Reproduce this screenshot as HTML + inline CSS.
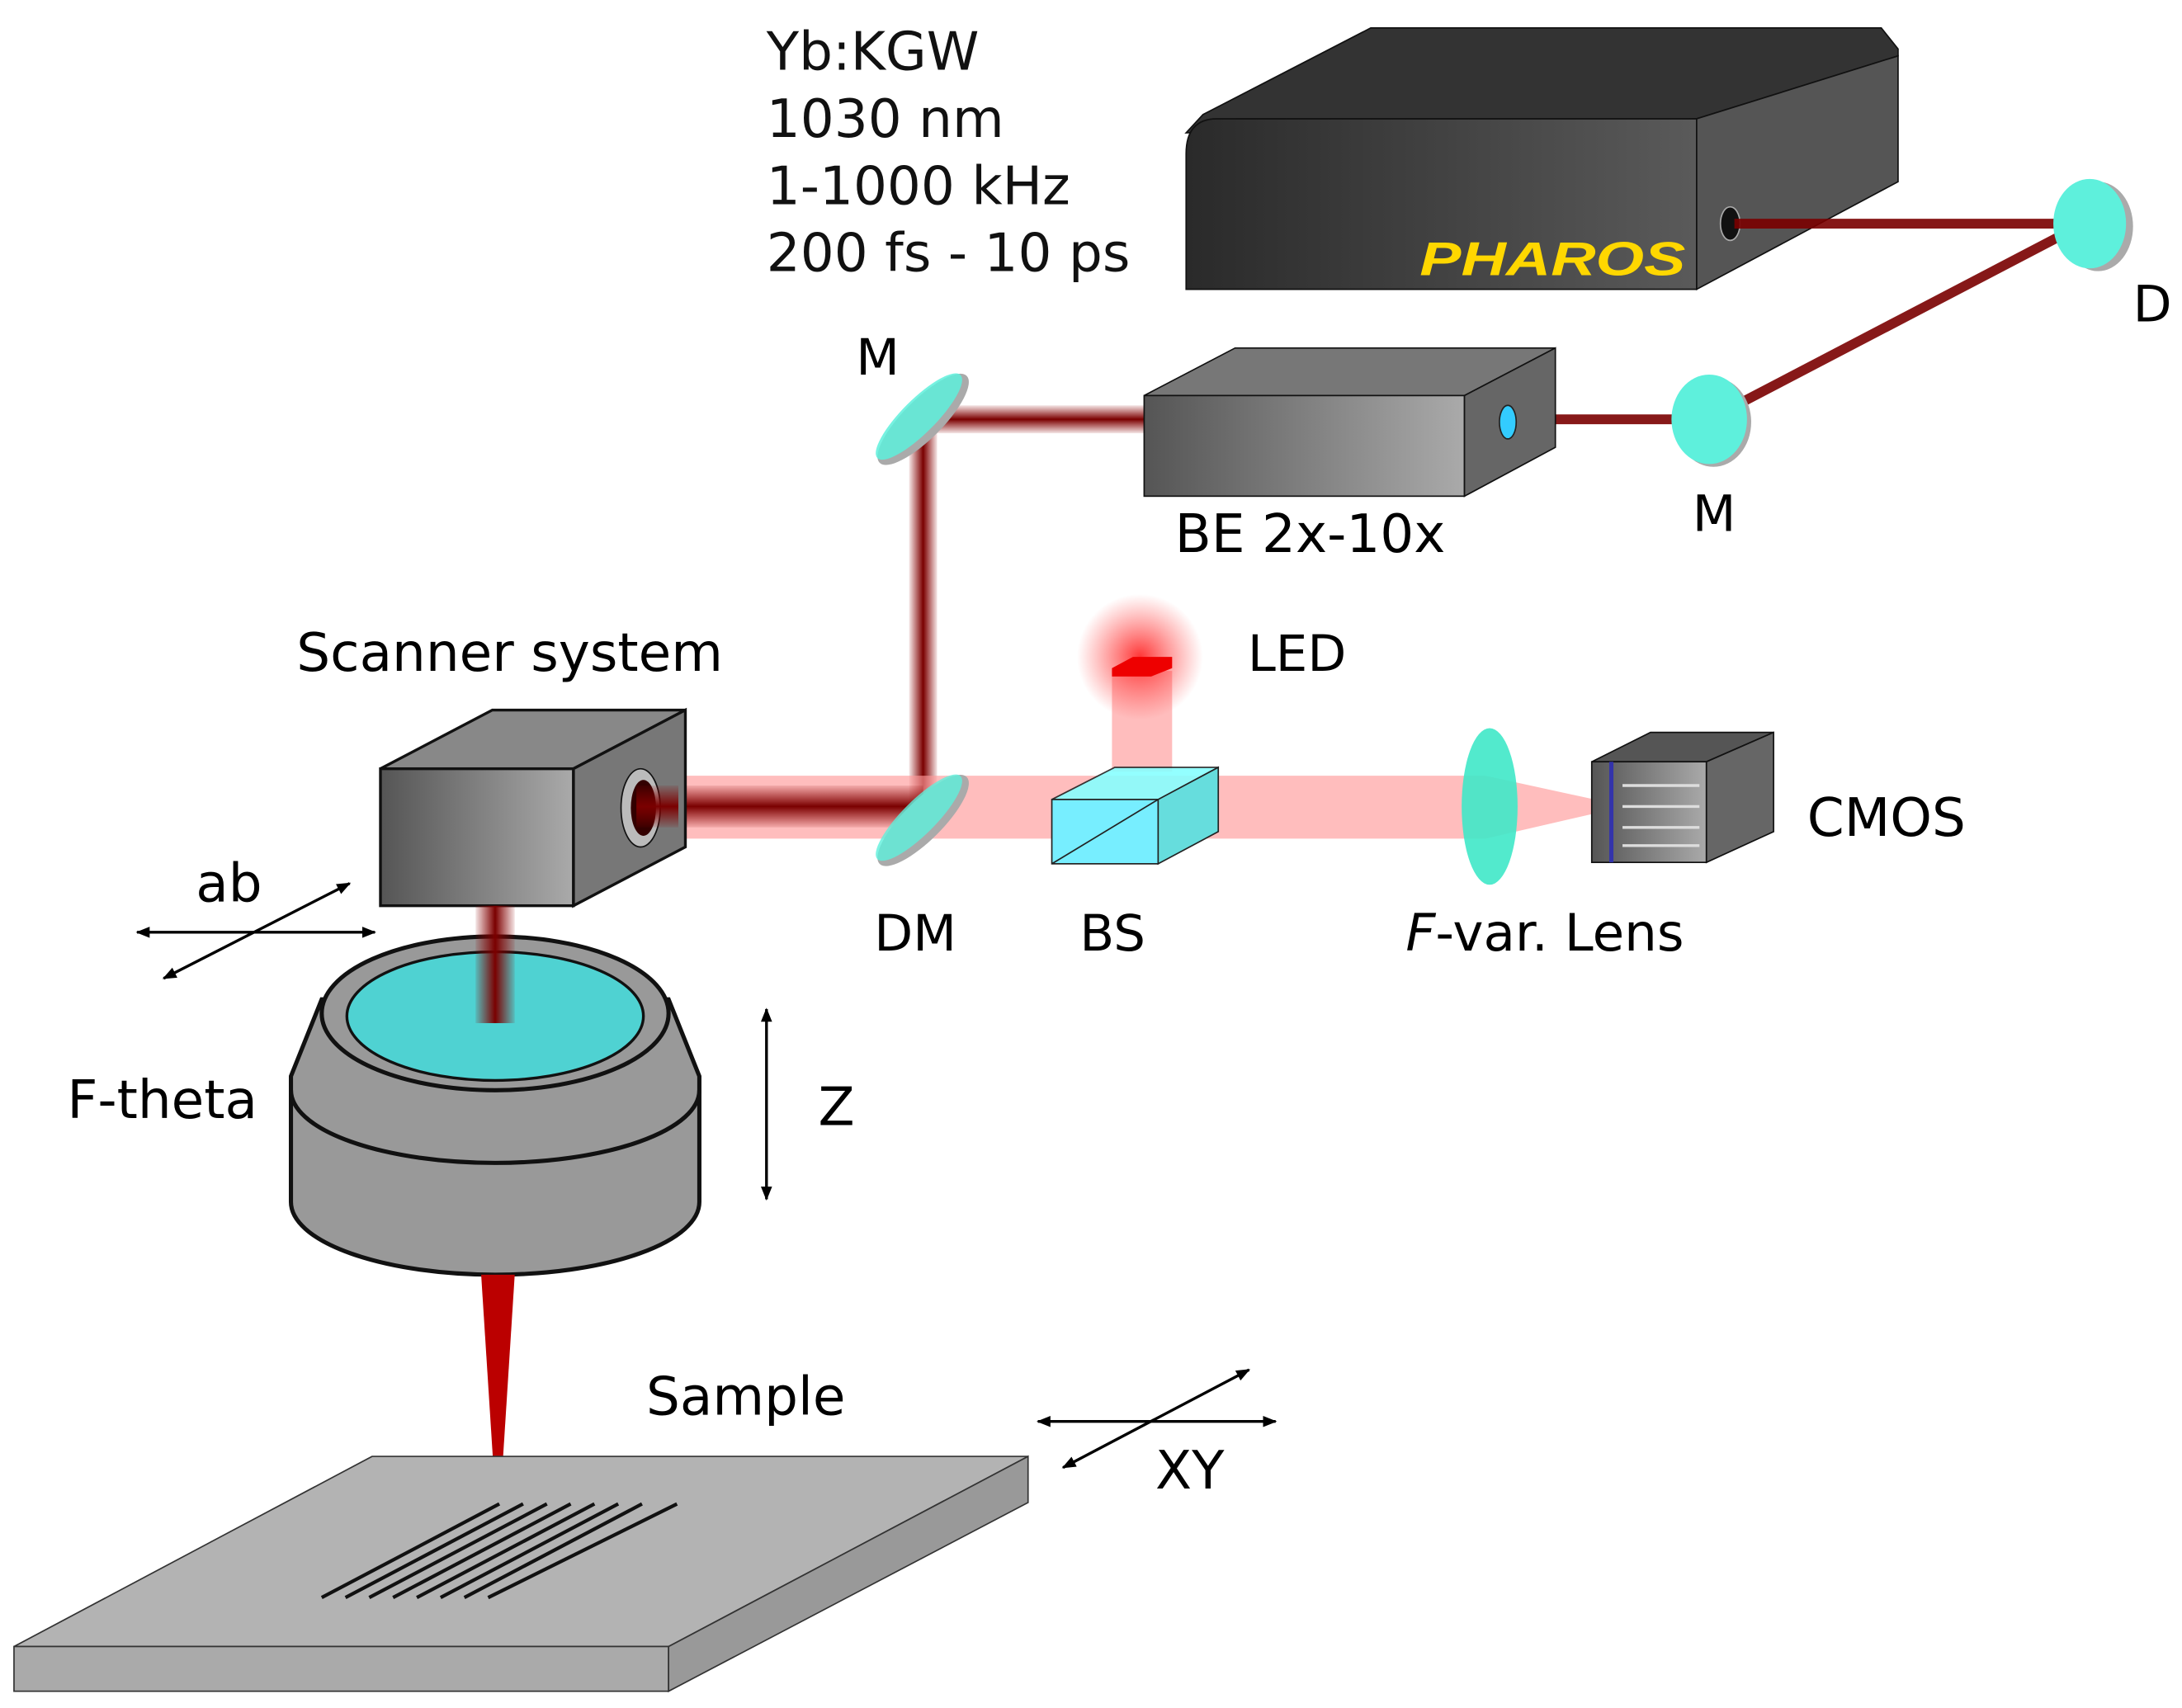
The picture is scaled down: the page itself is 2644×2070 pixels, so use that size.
<!DOCTYPE html>
<html><head><meta charset="utf-8"><style>html,body{margin:0;padding:0;background:#fff}svg{display:block}</style></head>
<body>
<svg width="2644" height="2070" viewBox="0 0 1560 1222" preserveAspectRatio="none" xmlns="http://www.w3.org/2000/svg" font-family="'DejaVu Sans','Liberation Sans',sans-serif">
<defs>
<linearGradient id="dk" x1="0" x2="1"><stop offset="0" stop-color="#2a2a2a"/><stop offset="1" stop-color="#5a5a5a"/></linearGradient>
<linearGradient id="gr" x1="0" x2="1"><stop offset="0" stop-color="#555"/><stop offset="1" stop-color="#aaa"/></linearGradient>
<radialGradient id="glow"><stop offset="0" stop-color="#ff2020" stop-opacity="0.9"/><stop offset="1" stop-color="#ff4040" stop-opacity="0"/></radialGradient>
<linearGradient id="vb" x1="0" x2="1"><stop offset="0" stop-color="#8b0000" stop-opacity="0.1"/><stop offset="0.5" stop-color="#7a0000"/><stop offset="1" stop-color="#8b0000" stop-opacity="0.1"/></linearGradient>
<linearGradient id="hb" x1="0" y1="0" x2="0" y2="1"><stop offset="0" stop-color="#8b0000" stop-opacity="0.1"/><stop offset="0.5" stop-color="#7a0000"/><stop offset="1" stop-color="#8b0000" stop-opacity="0.1"/></linearGradient>
<marker id="ar" markerWidth="10" markerHeight="10" refX="9" refY="5" orient="auto-start-reverse" markerUnits="userSpaceOnUse"><path d="M0,1 L10,5 L0,9 z" fill="#000"/></marker>
</defs>
<g font-size="38" fill="#111">
<text x="548" y="50">Yb:KGW</text><text x="548" y="98">1030 nm</text><text x="548" y="146">1-1000 kHz</text><text x="548" y="194">200 fs - 10 ps</text>
</g>
<!-- PHAROS -->
<polygon points="860,82 980,20 1345,20 1357,35 1357,40 1213,85 848,95" fill="#333" stroke="#111"/>
<path d="M848,207 L848,110 Q848,85 870,85 L1213,85 L1213,207 Z" fill="url(#dk)" stroke="#111"/>
<polygon points="1213,85 1357,40 1357,130 1213,207" fill="#555" stroke="#111"/>
<ellipse cx="1237" cy="160" rx="7" ry="12" fill="#111" stroke="#aaa"/>
<text x="1015" y="197" font-size="34" font-weight="900" font-style="italic" fill="#ffd700" font-family="'Liberation Sans',sans-serif" textLength="190" lengthAdjust="spacingAndGlyphs">PHAROS</text>
<!-- beams -->
<g stroke="#7a0000" stroke-width="7" fill="none" opacity="0.9">
<line x1="1240" y1="160" x2="1490" y2="160"/>
<line x1="1490" y1="160" x2="1222" y2="300"/>
<line x1="1080" y1="300" x2="1222" y2="300"/>
</g>
<rect x="660" y="290" width="158" height="20" fill="url(#hb)"/>
<rect x="650" y="300" width="20" height="280" fill="url(#vb)"/>
<!-- D mirror -->
<ellipse cx="1500" cy="162" rx="25" ry="32" fill="#aaa"/><ellipse cx="1494" cy="160" rx="26" ry="32" fill="#5ef0dc"/>
<text x="1525" y="230" font-size="36">D</text>
<ellipse cx="1225" cy="302" rx="27" ry="32" fill="#aaa"/><ellipse cx="1222" cy="300" rx="27" ry="32" fill="#5ef0dc"/>
<text x="1210" y="380" font-size="36">M</text>
<!-- BE -->
<polygon points="818,283 883,249 1112,249 1047,283" fill="#777" stroke="#111"/>
<rect x="818" y="283" width="229" height="72" fill="url(#gr)" stroke="#111"/>
<polygon points="1047,283 1112,249 1112,320 1047,355" fill="#666" stroke="#111"/>
<ellipse cx="1078" cy="302" rx="6" ry="12" fill="#3cf" stroke="#222"/>
<text x="840" y="395" font-size="38">BE 2x-10x</text>
<!-- M mirror -->
<ellipse cx="660" cy="300" rx="14" ry="44" transform="rotate(45 660 300)" fill="#aaa"/>
<ellipse cx="657" cy="298" rx="12" ry="42" transform="rotate(45 657 298)" fill="#5ef0dc" opacity="0.85"/>
<text x="612" y="268" font-size="36">M</text>
<!-- pink beam -->
<polygon points="455,555 1062,555 1140,572 1140,582 1062,600 455,600" fill="#ff9a9a" opacity="0.65"/>
<rect x="795" y="480" width="43" height="72" fill="#ff9a9a" opacity="0.65"/>
<circle cx="815" cy="470" r="45" fill="url(#glow)"/>
<polygon points="795,478 810,470 838,470 838,478 823,484 795,484" fill="#e00"/>
<text x="892" y="480" font-size="36">LED</text>
<rect x="455" y="562" width="205" height="30" fill="url(#hb)"/>
<!-- DM -->
<ellipse cx="660" cy="587" rx="14" ry="44" transform="rotate(45 660 587)" fill="#aaa"/>
<ellipse cx="657" cy="585" rx="12" ry="42" transform="rotate(45 657 585)" fill="#5ef0dc" opacity="0.8"/>
<text x="625" y="680" font-size="36">DM</text>
<!-- BS -->
<polygon points="752,572 797,549 871,549 828,572" fill="#8ff" stroke="#222" opacity="0.9"/>
<rect x="752" y="572" width="76" height="46" fill="#7ef" stroke="#222"/>
<polygon points="828,572 871,549 871,595 828,618" fill="#6dd" stroke="#222"/>
<line x1="752" y1="618" x2="828" y2="572" stroke="#222"/>
<text x="772" y="680" font-size="36">BS</text>
<!-- lens -->
<ellipse cx="1065" cy="577" rx="20" ry="56" fill="#3fe8c8" opacity="0.9"/>
<text x="1005" y="680" font-size="37"><tspan font-style="italic">F</tspan>-var. Lens</text>
<!-- CMOS -->
<polygon points="1138,545 1180,524 1268,524 1220,545" fill="#555" stroke="#111"/>
<rect x="1138" y="545" width="82" height="72" fill="url(#gr)" stroke="#111"/>
<line x1="1152" y1="545" x2="1152" y2="617" stroke="#33a" stroke-width="3"/>
<polygon points="1220,545 1268,524 1268,595 1220,617" fill="#666" stroke="#111"/>
<g stroke="#ddd" stroke-width="2"><line x1="1160" y1="562" x2="1215" y2="562"/><line x1="1160" y1="577" x2="1215" y2="577"/><line x1="1160" y1="592" x2="1215" y2="592"/><line x1="1160" y1="605" x2="1215" y2="605"/></g>
<text x="1292" y="598" font-size="38">CMOS</text>
<!-- scanner -->
<polygon points="272,550 352,508 490,508 410,550" fill="#888" stroke="#111" stroke-width="2"/>
<rect x="272" y="550" width="138" height="98" fill="url(#gr)" stroke="#111" stroke-width="2"/>
<polygon points="410,550 490,508 490,606 410,648" fill="#777" stroke="#111" stroke-width="2"/>
<ellipse cx="458" cy="578" rx="14" ry="28" fill="#bbb" stroke="#111"/><ellipse cx="460" cy="578" rx="9" ry="20" fill="#300"/>
<rect x="455" y="562" width="30" height="30" fill="url(#hb)"/>
<text x="212" y="480" font-size="38">Scanner system</text>
<!-- ab -->
<g stroke="#000" stroke-width="2" marker-start="url(#ar)" marker-end="url(#ar)"><line x1="98" y1="667" x2="268" y2="667"/><line x1="117" y1="700" x2="250" y2="632"/></g>
<text x="140" y="645" font-size="38">ab</text>
<!-- F-theta -->
<path d="M208,770 L230,715 L478,715 L500,770 L500,860 A146,52 0 0 1 208,860 Z" fill="#999" stroke="#111" stroke-width="3"/>
<path d="M208,780 A146,52 0 0 0 500,780" fill="none" stroke="#111" stroke-width="3"/>
<ellipse cx="354" cy="725" rx="124" ry="55" fill="#999" stroke="#111" stroke-width="3"/>
<ellipse cx="354" cy="727" rx="106" ry="46" fill="#4fd2d2" stroke="#111" stroke-width="2"/>
<rect x="340" y="648" width="28" height="84" fill="url(#vb)"/>
<text x="48" y="800" font-size="38">F-theta</text>
<line x1="548" y1="722" x2="548" y2="858" stroke="#000" stroke-width="2" marker-start="url(#ar)" marker-end="url(#ar)"/>
<text x="585" y="805" font-size="38">Z</text>
<polygon points="344,912 368,912 356,1100" fill="#b00"/>
<!-- sample -->
<polygon points="10,1178 266,1042 735,1042 478,1178" fill="#b3b3b3" stroke="#333"/>
<rect x="10" y="1178" width="468" height="32" fill="#aaa" stroke="#333"/>
<polygon points="478,1178 735,1042 735,1075 478,1210" fill="#999" stroke="#333"/>
<g stroke="#111" stroke-width="2.5">
<line x1="230" y1="1143" x2="357" y2="1076"/><line x1="247" y1="1143" x2="374" y2="1076"/><line x1="264" y1="1143" x2="391" y2="1076"/><line x1="281" y1="1143" x2="408" y2="1076"/><line x1="298" y1="1143" x2="425" y2="1076"/><line x1="315" y1="1143" x2="442" y2="1076"/><line x1="332" y1="1143" x2="459" y2="1076"/><line x1="349" y1="1143" x2="484" y2="1076"/>
</g>
<text x="462" y="1012" font-size="38">Sample</text>
<g stroke="#000" stroke-width="2" marker-start="url(#ar)" marker-end="url(#ar)"><line x1="742" y1="1017" x2="912" y2="1017"/><line x1="760" y1="1050" x2="893" y2="980"/></g>
<text x="826" y="1065" font-size="38">XY</text>
</svg>
</body></html>
